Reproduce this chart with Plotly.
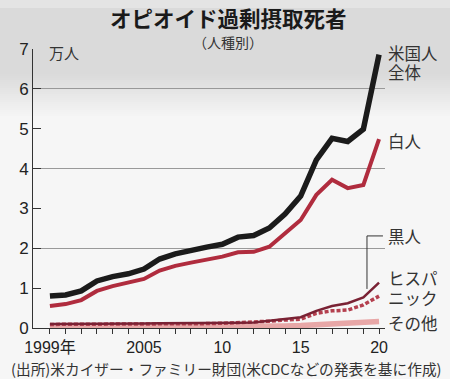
import plotly.graph_objects as go

years = list(range(1999, 2021))
total = [0.80, 0.83, 0.93, 1.18, 1.29, 1.36, 1.48, 1.73, 1.86, 1.96, 2.03, 2.10,
         2.28, 2.32, 2.51, 2.86, 3.31, 4.22, 4.76, 4.68, 4.99, 6.86]
white = [0.55, 0.60, 0.70, 0.93, 1.05, 1.14, 1.23, 1.44, 1.56, 1.64, 1.71, 1.79,
         1.90, 1.91, 2.04, 2.38, 2.71, 3.34, 3.72, 3.51, 3.59, 4.74]
black = [0.10, 0.10, 0.10, 0.11, 0.11, 0.11, 0.11, 0.12, 0.12, 0.12, 0.12, 0.13,
         0.13, 0.14, 0.18, 0.22, 0.27, 0.43, 0.55, 0.62, 0.77, 1.14]
hispanic = [0.09, 0.09, 0.09, 0.10, 0.10, 0.10, 0.10, 0.11, 0.11, 0.11, 0.11, 0.12,
            0.13, 0.14, 0.17, 0.20, 0.22, 0.37, 0.43, 0.45, 0.58, 0.80]
other = [0.02, 0.02, 0.02, 0.02, 0.02, 0.02, 0.02, 0.02, 0.03, 0.03, 0.03, 0.03,
         0.03, 0.03, 0.04, 0.05, 0.06, 0.08, 0.09, 0.10, 0.12, 0.16]

x_tickvals = years
x_ticktext = {1999: "1999年", 2005: "2005", 2010: "10", 2015: "15", 2020: "20"}
y_tickvals = [0, 1, 2, 3, 4, 5, 6, 7]
grid_vals = [2, 4, 6]

JP = "Noto Sans CJK JP"
NUM = "Liberation Sans, Noto Sans CJK JP"

fig = go.Figure()
fig.add_trace(go.Scatter(x=years, y=other, mode="lines",
                         line=dict(color="#e8a7a7", width=5.5)))
fig.add_trace(go.Scatter(x=years, y=hispanic, mode="lines",
                         line=dict(color="#b4404f", width=3.5, dash="4px,2px")))
fig.add_trace(go.Scatter(x=years, y=black, mode="lines",
                         line=dict(color="#7a2234", width=2.5)))
fig.add_trace(go.Scatter(x=years, y=white, mode="lines",
                         line=dict(color="#b02c3e", width=4)))
fig.add_trace(go.Scatter(x=years, y=total, mode="lines",
                         line=dict(color="#1b1b1b", width=5.5)))
# invisible trace for gridline axis
fig.add_trace(go.Scatter(x=[years[0]], y=[0], yaxis="y2", mode="markers",
                         marker=dict(opacity=0), hoverinfo="skip"))

L, T, B_PX, R_PX = 33, 49, 328, 385
W_PLOT = R_PX - L
H_PLOT = float(B_PX - T)

def py(p):
    return (B_PX - p) / H_PLOT

def px(p):
    return (p - L) / W_PLOT

# background gradient bands
shapes = []
for p in range(0, 130, 2):
    if p < 8:
        g = 228
    elif p < 72:
        g = 218
    elif p < 116:
        g = int(218 + (p - 72) * (246 - 218) / 44)
    else:
        g = 246
    shapes.append(dict(type="rect", xref="paper", yref="paper", x0=-0.2, x1=1.3,
                       y0=py(p + 2), y1=py(p), fillcolor=f"rgb({g},{g},{g})",
                       line=dict(width=0), layer="below"))
# leader line for 黒人
shapes.append(dict(type="path", xref="x", yref="y",
                   path="M 2019.23,0.98 L 2019.23,2.31 L 2020.25,2.31",
                   line=dict(color="#333", width=1)))

LBL_X = px(386)
lbl_font = dict(family=JP, size=16.5, color="#333")
labels = [("米国人", 53), ("全体", 72), ("白人", 141), ("黒人", 236),
          ("ヒスパ", 278), ("ニック", 298), ("その他", 323)]

annotations = [
    dict(text="オピオイド過剰摂取死者", xref="paper", yref="paper",
         x=px(229), y=py(17), xanchor="center", yanchor="middle",
         showarrow=False, font=dict(family=JP, size=21.5, color="#1a1a1a", weight="bold")),
    dict(text="（人種別）", xref="paper", yref="paper",
         x=px(228), y=py(42), xanchor="center", yanchor="middle",
         showarrow=False, font=dict(family=JP, size=14, color="#333")),
    dict(text="万人", xref="paper", yref="paper", x=px(47), y=py(52),
         xanchor="left", yanchor="middle", showarrow=False,
         font=dict(family=JP, size=15, color="#333")),
    dict(text="(出所)米カイザー・ファミリー財団(米CDCなどの発表を基に作成)",
         xref="paper", yref="paper", x=px(226), y=py(368),
         xanchor="center", yanchor="middle", showarrow=False,
         font=dict(family=JP, size=14.7, color="#333")),
]
for txt, p in labels:
    annotations.append(dict(text=txt, xref="paper", yref="paper", x=LBL_X, y=py(p),
                            xanchor="left", yanchor="middle", showarrow=False,
                            font=lbl_font))

fig.update_layout(
    width=450, height=379,
    margin=dict(l=L, r=450 - R_PX, t=T, b=379 - B_PX),
    paper_bgcolor="#f6f6f6", plot_bgcolor="rgba(0,0,0,0)",
    showlegend=False,
    shapes=shapes, annotations=annotations,
    xaxis=dict(range=[1997.92, 2020.38], tickvals=x_tickvals,
               ticktext=[x_ticktext.get(y, "") for y in x_tickvals],
               ticks="outside", ticklen=5, tickcolor="#333",
               showline=True, linecolor="#333", linewidth=1,
               showgrid=False, zeroline=False,
               tickfont=dict(family=NUM, size=16, color="#222")),
    yaxis=dict(range=[0, 7], tickvals=y_tickvals,
               ticks="inside", ticklen=8, tickcolor="#333",
               showline=True, linecolor="#333", linewidth=1,
               showgrid=False, zeroline=False,
               tickfont=dict(family=NUM, size=17, color="#222")),
    yaxis2=dict(range=[0, 7], overlaying="y", tickvals=grid_vals,
                showticklabels=False, ticks="", showgrid=True,
                gridcolor="#999", gridwidth=1, zeroline=False, showline=False),
)

fig.write_html("out.html", config={"displayModeBar": False},
               post_script="document.body.style.margin='0';document.body.style.overflow='hidden';")
